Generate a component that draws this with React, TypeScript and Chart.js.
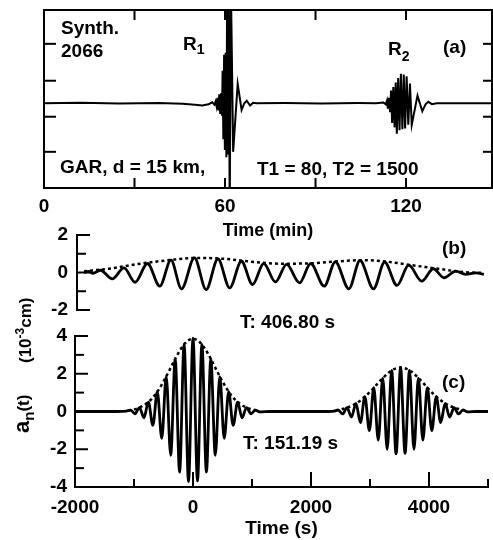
import React, { useEffect, useRef } from 'react';
import { Chart, registerables } from 'chart.js';
Chart.register(...registerables);

const FONT = '"Liberation Sans", Arial, Helvetica, sans-serif';

// ---------- Panel (a): synthetic seismogram, time in minutes ----------
const aTime = [0, 12, 25, 38, 46, 50, 52.5, 54.5, 55.8, 56.5, 56.9, 57.2, 57.5, 57.8, 58.1, 58.4, 58.7, 59.0, 59.2, 59.45, 59.7, 59.95, 60.2, 60.45, 60.7, 61.0, 61.25, 61.55, 62.0, 62.7, 64.2, 65.5, 66.4, 67.2, 68.3, 69.3, 70.5, 80, 92, 104, 110, 112.5, 113.3, 113.7, 114.0, 114.35, 114.7, 115.05, 115.4, 115.8, 116.2, 116.6, 116.95, 117.4, 117.85, 118.3, 118.8, 119.25, 119.7, 120.2, 120.75, 121.3, 121.9, 123.8, 125.4, 126.5, 127.4, 128.6, 130.2, 138, 148.5];
const aAmp = [0, 0.02, -0.02, 0.01, -0.03, -0.08, -0.12, -0.06, 0.05, -0.08, 0.1, -0.15, 0.3, -0.4, 0.5, -0.6, 0.55, -0.7, 1.8, -2.0, 2.7, -2.6, 2.8, -3.0, 6, -2.8, 6, -6, 6, -2.7, 1.07, -0.37, 0.0, 0.14, -0.13, 0.03, 0, 0.01, -0.01, 0.01, 0, 0.04, -0.06, 0.15, -0.3, 0.3, -0.5, 0.7, -1.1, 0.9, -1.35, 1.15, -1.7, 1.4, -1.5, 1.63, -1.45, 1.6, -1.4, 1.5, -1.2, 1.1, -1.2, 0.42, -0.45, -0.05, 0.08, -0.05, 0, 0, 0];
const aTickLabels = [0, 60, 120];
const aXTickMarks = [30, 60, 90, 120];
const aYTickMarks = [3.3, 1.25, -0.75, -2.7];

// ---------- Panel (b): T = 406.80 s ----------
const bTime = [-1880, -1800, -1730, -1600, -1400, -1200, -1010, -800, -590, -400, -220, 0, 200, 400, 600, 800, 990, 1180, 1380, 1570, 1790, 1980, 2210, 2400, 2630, 2820, 3050, 3240, 3450, 3650, 3870, 4070, 4250, 4450, 4620, 4790, 4930];
const bAmp = [0.0, 0.06, -0.04, 0.12, -0.34, 0.25, -0.52, 0.48, -0.73, 0.66, -0.87, 0.78, -0.91, 0.73, -0.82, 0.6, -0.64, 0.48, -0.5, 0.43, -0.55, 0.48, -0.73, 0.57, -0.87, 0.64, -0.87, 0.55, -0.69, 0.39, -0.46, 0.2, -0.28, 0.07, -0.1, -0.02, -0.1];
const bEnvTime = [-1880, -1460, -900, -340, 0, 500, 1060, 1450, 1900, 2460, 2910, 3300, 3700, 4150, 4590, 4930];
const bEnv = [0.07, 0.2, 0.48, 0.69, 0.78, 0.73, 0.55, 0.47, 0.48, 0.6, 0.66, 0.57, 0.39, 0.2, 0.02, -0.02];
const bYTickLabels = [-2, 0, 2];
const bYMajor = [-2, 0, 2];
const bYMinor = [-1, 1];

// ---------- Panel (c): T = 151.19 s ----------
const cTime = [-2000, -1300, -1130,
  -1058, -983, -907, -832, -756, -680, -605, -529, -454, -378, -302, -227, -151, -76, 0, 76, 151, 227, 302, 378, 454, 529, 605, 680, 756, 832, 907, 983, 1058,
  1130, 1300, 2300, 2390,
  2460, 2535, 2611, 2686, 2762, 2838, 2913, 2989, 3064, 3140, 3216, 3291, 3367, 3442, 3518, 3594, 3669, 3745, 3820, 3896, 3972, 4047, 4123, 4198, 4274, 4350, 4425, 4501, 4576,
  4650, 4800, 5000];
const cAmp = [0, 0, 0.02,
  0.07, -0.12, 0.21, -0.33, 0.5, -0.74, 1.05, -1.42, 1.85, -2.32, 2.78, -3.21, 3.55, -3.72, 3.88, -3.68, 3.55, -3.21, 2.78, -2.32, 1.85, -1.42, 1.05, -0.74, 0.5, -0.33, 0.21, -0.12, 0.07,
  -0.02, 0, 0, 0.02,
  0.08, -0.13, 0.2, -0.3, 0.43, -0.59, 0.79, -1.01, 1.26, -1.52, 1.77, -2.0, 2.18, -2.25, 2.33, -2.22, 2.18, -2.0, 1.77, -1.52, 1.26, -1.01, 0.79, -0.59, 0.43, -0.3, 0.2, -0.13, 0.08,
  -0.02, 0, 0];
const cEnv1Time = [-1100, -1000, -900, -800, -700, -600, -500, -400, -300, -200, -100, 0, 100, 200, 300, 400, 500, 600, 700, 800, 900, 1000, 1100];
const cEnv1 = [0.05, 0.11, 0.22, 0.4, 0.67, 1.07, 1.59, 2.18, 2.8, 3.34, 3.72, 3.85, 3.72, 3.34, 2.8, 2.18, 1.59, 1.07, 0.67, 0.4, 0.22, 0.11, 0.05];
const cEnv2Time = [2520, 2620, 2720, 2820, 2920, 3020, 3120, 3220, 3320, 3420, 3520, 3620, 3720, 3820, 3920, 4020, 4120, 4220, 4320, 4420, 4520];
const cEnv2 = [0.12, 0.21, 0.35, 0.54, 0.8, 1.1, 1.45, 1.78, 2.07, 2.26, 2.33, 2.26, 2.07, 1.78, 1.45, 1.1, 0.8, 0.54, 0.35, 0.21, 0.12];
const cXTickLabels = [-2000, 0, 2000, 4000];
const cXMajor = [0, 2000, 4000];
const cXMinor = [-1000, 1000, 3000, 5000];
const cYTickLabels = [-4, -2, 0, 2, 4];
const cYMajor = [-4, -2, 0, 2, 4];
const cYMinor = [-3, -1, 1, 3];

const pts = (xs: number[], ys: number[]) => xs.map((x, i) => ({ x, y: ys[i] }));
const plain = (v: any) => String(v);

type Run = { s: string; size: number; dy?: number };
type Note = { runs: Run[]; x: number; y: number; rot?: number };

const deco = {
  id: 'deco',
  afterDraw(chart: any, _args: any, opts: any) {
    const { ctx, chartArea: ca } = chart;
    ctx.save();
    ctx.strokeStyle = '#000';
    ctx.fillStyle = '#000';
    ctx.lineWidth = 2;
    ctx.lineCap = 'butt';
    (opts.frame || []).forEach((side: string) => {
      ctx.beginPath();
      if (side === 'left') { ctx.moveTo(ca.left, ca.top - 1); ctx.lineTo(ca.left, ca.bottom + 1); }
      if (side === 'right') { ctx.moveTo(ca.right, ca.top - 1); ctx.lineTo(ca.right, ca.bottom + 1); }
      if (side === 'top') { ctx.moveTo(ca.left - 1, ca.top); ctx.lineTo(ca.right + 1, ca.top); }
      if (side === 'bottom') { ctx.moveTo(ca.left - 1, ca.bottom); ctx.lineTo(ca.right + 1, ca.bottom); }
      ctx.stroke();
    });
    (opts.ticks || []).forEach((t: any) => {
      const sc = chart.scales[t.axis];
      t.values.forEach((v: number) => {
        const p = sc.getPixelForValue(v);
        ctx.beginPath();
        if (t.side === 'left') { ctx.moveTo(ca.left, p); ctx.lineTo(ca.left + t.len, p); }
        if (t.side === 'right') { ctx.moveTo(ca.right, p); ctx.lineTo(ca.right - t.len, p); }
        if (t.side === 'top') { ctx.moveTo(p, ca.top); ctx.lineTo(p, ca.top + t.len); }
        if (t.side === 'bottom') { ctx.moveTo(p, ca.bottom); ctx.lineTo(p, ca.bottom - t.len); }
        ctx.stroke();
      });
    });
    ctx.textBaseline = 'alphabetic';
    ctx.textAlign = 'left';
    (opts.notes || []).forEach((n: Note) => {
      ctx.save();
      ctx.translate(n.x, n.y);
      if (n.rot) ctx.rotate(n.rot);
      let cx = 0;
      n.runs.forEach((r) => {
        ctx.font = `bold ${r.size}px ${FONT}`;
        ctx.fillText(r.s, cx, r.dy || 0);
        cx += ctx.measureText(r.s).width;
      });
      ctx.restore();
    });
    ctx.restore();
  },
};

const tickFont = { family: FONT, size: 19, weight: 'bold' as const };
const noGrid = { display: false, drawTicks: false };
const noBorder = { display: false };
const W = 493;
const H = 540;

function baseOptions(padding: any, scales: any, decoOpts: any) {
  return {
    animation: false,
    responsive: false,
    devicePixelRatio: 1,
    events: [],
    layout: { padding, autoPadding: false },
    plugins: { legend: { display: false }, tooltip: { enabled: false }, deco: decoOpts },
    scales,
  };
}

function configA() {
  return {
    type: 'scatter',
    data: {
      datasets: [{ data: pts(aTime, aAmp), showLine: true, borderColor: '#000', borderWidth: 2, pointRadius: 0, tension: 0 }],
    },
    options: baseOptions(
      { left: 0, top: 10, right: 1, bottom: H - 188 - 57 },
      {
        x: {
          type: 'linear', min: 0, max: 148.5,
          afterBuildTicks: (s: any) => { s.ticks = aTickLabels.map((v) => ({ value: v })); },
          afterFit: (s: any) => { s.height = 57; },
          grid: noGrid, border: noBorder,
          ticks: { padding: 7, color: '#000', font: tickFont, maxRotation: 0, autoSkip: false, callback: plain },
          title: { display: true, text: 'Time (min)', color: '#000', font: { family: FONT, size: 18, weight: 'bold' }, padding: { top: 0, bottom: 3 } },
        },
        y: {
          type: 'linear', min: -4.71, max: 5.18,
          afterFit: (s: any) => { s.width = 44; },
          grid: noGrid, border: noBorder, ticks: { display: false },
        },
      },
      {
        frame: ['left', 'top', 'right', 'bottom'],
        ticks: [
          { axis: 'y', side: 'left', values: aYTickMarks, len: 12 },
          { axis: 'y', side: 'right', values: aYTickMarks, len: 9 },
          { axis: 'x', side: 'top', values: aXTickMarks, len: 10 },
          { axis: 'x', side: 'bottom', values: aXTickMarks, len: 10 },
        ],
        notes: [
          { runs: [{ s: 'Synth.', size: 19 }], x: 61, y: 34 },
          { runs: [{ s: '2066', size: 19 }], x: 61, y: 57 },
          { runs: [{ s: 'R', size: 19 }, { s: '1', size: 14, dy: 4 }], x: 183, y: 50 },
          { runs: [{ s: 'R', size: 19 }, { s: '2', size: 14, dy: 6 }], x: 388, y: 55 },
          { runs: [{ s: '(a)', size: 19 }], x: 443, y: 53 },
          { runs: [{ s: 'GAR, d = 15 km,', size: 19 }], x: 60, y: 173 },
          { runs: [{ s: 'T1 = 80, T2 = 1500', size: 19 }], x: 257, y: 175 },
        ],
      },
    ),
  };
}

function configB() {
  return {
    type: 'scatter',
    data: {
      datasets: [
        { data: pts(bEnvTime, bEnv), showLine: true, borderColor: '#000', borderWidth: 2.5, borderDash: [3, 3], pointRadius: 0, cubicInterpolationMode: 'monotone' },
        { data: pts(bTime, bAmp), showLine: true, borderColor: '#000', borderWidth: 2.8, pointRadius: 0, cubicInterpolationMode: 'monotone' },
      ],
    },
    options: baseOptions(
      { left: 32, top: 235, right: 5, bottom: H - 310 },
      {
        x: { type: 'linear', min: -2000, max: 5000, display: false },
        y: {
          type: 'linear', min: -2, max: 2,
          afterBuildTicks: (s: any) => { s.ticks = bYTickLabels.map((v) => ({ value: v })); },
          afterFit: (s: any) => { s.width = 45; },
          grid: noGrid, border: noBorder,
          ticks: { padding: 9, color: '#000', font: tickFont, callback: plain },
        },
      },
      {
        frame: ['left'],
        ticks: [
          { axis: 'y', side: 'left', values: bYMajor, len: 13 },
          { axis: 'y', side: 'left', values: bYMinor, len: 9 },
        ],
        notes: [
          { runs: [{ s: '(b)', size: 19 }], x: 442, y: 254 },
          { runs: [{ s: 'T: 406.80 s', size: 19 }], x: 240, y: 328 },
        ],
      },
    ),
  };
}

function configC() {
  return {
    type: 'scatter',
    data: {
      datasets: [
        { data: pts(cEnv1Time, cEnv1), showLine: true, borderColor: '#000', borderWidth: 2.5, borderDash: [3, 3], pointRadius: 0, cubicInterpolationMode: 'monotone' },
        { data: pts(cEnv2Time, cEnv2), showLine: true, borderColor: '#000', borderWidth: 2.5, borderDash: [3, 3], pointRadius: 0, cubicInterpolationMode: 'monotone' },
        { data: pts(cTime, cAmp), showLine: true, borderColor: '#000', borderWidth: 2.8, pointRadius: 0, cubicInterpolationMode: 'monotone' },
      ],
    },
    options: baseOptions(
      { left: 30, top: 336, right: 5, bottom: 0 },
      {
        x: {
          type: 'linear', min: -2000, max: 5000,
          afterBuildTicks: (s: any) => { s.ticks = cXTickLabels.map((v) => ({ value: v })); },
          afterFit: (s: any) => { s.height = 53; },
          grid: noGrid, border: noBorder,
          ticks: { padding: 9, color: '#000', font: tickFont, maxRotation: 0, autoSkip: false, callback: plain },
          title: { display: true, text: 'Time (s)', color: '#000', font: { family: FONT, size: 19, weight: 'bold' }, padding: { top: 0, bottom: 0 } },
        },
        y: {
          type: 'linear', min: -4, max: 4,
          afterBuildTicks: (s: any) => { s.ticks = cYTickLabels.map((v) => ({ value: v })); },
          afterFit: (s: any) => { s.width = 45; },
          grid: noGrid, border: noBorder,
          ticks: { padding: 8, color: '#000', font: tickFont, callback: plain },
        },
      },
      {
        frame: ['left', 'bottom'],
        ticks: [
          { axis: 'y', side: 'left', values: cYMajor, len: 13 },
          { axis: 'y', side: 'left', values: cYMinor, len: 9 },
          { axis: 'x', side: 'bottom', values: cXMajor, len: 15 },
          { axis: 'x', side: 'bottom', values: cXMinor, len: 8 },
        ],
        notes: [
          { runs: [{ s: '(c)', size: 19 }], x: 442, y: 388 },
          { runs: [{ s: 'T: 151.19 s', size: 19 }], x: 243, y: 449 },
          { runs: [{ s: 'a', size: 22 }, { s: 'n', size: 15, dy: 5 }, { s: '(t)', size: 17 }], x: 29, y: 433, rot: -Math.PI / 2 },
          { runs: [{ s: '(10', size: 17 }, { s: '-3', size: 12, dy: -7 }, { s: 'cm)', size: 17 }], x: 31, y: 363, rot: -Math.PI / 2 },
        ],
      },
    ),
  };
}

function Panel({ make }: { make: () => any }) {
  const ref = useRef<HTMLCanvasElement | null>(null);
  useEffect(() => {
    if (!ref.current) return;
    const cfg = make();
    const chart = new Chart(ref.current, { ...cfg, plugins: [deco] } as any);
    return () => chart.destroy();
  }, [make]);
  return (
    <canvas
      ref={ref}
      width={W}
      height={H}
      style={{ position: 'absolute', left: 0, top: 0, width: W, height: H }}
    />
  );
}

export default function App() {
  return (
    <div style={{ position: 'fixed', left: 0, top: 0, width: W, height: H, background: '#fff', overflow: 'hidden' }}>
      <Panel make={configA} />
      <Panel make={configB} />
      <Panel make={configC} />
    </div>
  );
}
